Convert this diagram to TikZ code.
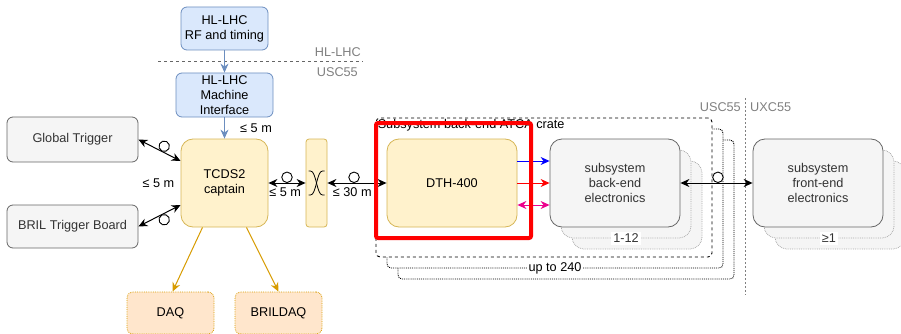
\documentclass[tikz,border=0pt]{standalone}
\usepackage{fontspec}
\setmainfont{Liberation Sans}
\usetikzlibrary{arrows.meta}
\definecolor{bluefill}{HTML}{DAE8FC}
\definecolor{bluedraw}{HTML}{6C8EBF}
\definecolor{yellowfill}{HTML}{FFF2CC}
\definecolor{yellowdraw}{HTML}{D6B656}
\definecolor{orangefill}{HTML}{FFE6CC}
\definecolor{orangedraw}{HTML}{D79B00}
\definecolor{greyfill}{HTML}{F5F5F5}
\definecolor{greydraw}{HTML}{666666}
\definecolor{greytext}{HTML}{333333}
\definecolor{zonetext}{HTML}{808080}
\begin{document}
\begin{tikzpicture}[x=1pt,y=-1pt,
  font=\fontsize{12.7pt}{15pt}\selectfont,
  >={Stealth[length=9pt,width=8pt]},
  block/.style={draw,align=center,inner sep=1pt,line width=0.8pt},
  lhcbox/.style={block,fill=bluefill,draw=bluedraw,rounded corners=6pt},
  tcdsbox/.style={block,fill=yellowfill,draw=yellowdraw,rounded corners=12pt,minimum width=87pt,minimum height=88pt},
  daqbox/.style={block,fill=orangefill,draw=orangedraw,densely dotted,rounded corners=6pt,minimum width=87pt,minimum height=42pt},
  sysbox/.style={block,fill=greyfill,draw=greydraw,text=greytext,rounded corners=6pt,minimum width=131pt},
  stackbox/.style={block,fill=greyfill,draw=greydraw!55,densely dotted,rounded corners=12pt,minimum width=130pt,minimum height=88pt},
  cratebox/.style={draw,fill=white,line width=0.9pt,rounded corners=4pt,minimum width=336pt,minimum height=139pt},
  fiber/.style={circle,draw,fill=white,minimum size=10.5pt,inner sep=0pt,line width=0.9pt},
  link/.style={<->,line width=1pt},
  dist/.style={inner sep=1pt},
  zone/.style={text=zonetext,inner sep=1pt},
  tag/.style={fill=white,inner sep=2pt,text=greytext}]
\useasboundingbox (0,0) rectangle (901,334);
\draw[dashed,greydraw,line width=0.7pt] (158,61) -- (363,61);
\node[zone,anchor=east] (hllhc) at (362,52) {HL-LHC};
\node[zone,anchor=east] (usctop) at (359,72) {USC55};
\draw[zonetext,line width=0.9pt,dash pattern=on 2pt off 2pt] (745,98) -- (745,295);
\node[zone,anchor=east] (usc) at (742,107) {USC55};
\node[zone,anchor=west] (uxc) at (749,107) {UXC55};
\foreach \s in {22,11}
  \node[cratebox,densely dotted] (crate\s) at (544+\s,187.5+\s) {};
\node[cratebox,dashed] (crate) at (544,187.5) {};
\node[tag,text=black] (upto) at (crate11.south) {up to 240};
\node[anchor=north west,inner sep=2pt] (cratelabel) at (crate.north west) {Subsystem back-end ATCA crate};
\node[lhcbox,minimum width=87pt,minimum height=43pt] (rf) at (224.5,28.5) {HL-LHC\\RF and timing};
\node[lhcbox,minimum width=97pt,minimum height=44pt] (mi) at (224.5,95) {HL-LHC\\Machine\\Interface};
\node[sysbox,minimum height=45pt] (gt) at (72.5,139.5) {Global Trigger};
\node[sysbox,minimum height=43pt] (bril) at (72.5,226.5) {BRIL Trigger Board};
\node[tcdsbox] (tcds) at (224.5,183) {TCDS2\\captain};
\node[tcdsbox,minimum width=21pt,rounded corners=3pt] (mux) at (316.5,183) {};
\node[tcdsbox,minimum width=130pt] (dth) at (452,183) {DTH-400};
\node[daqbox] (daq) at (170.5,313) {DAQ};
\node[daqbox] (bdaq) at (278.5,313) {BRILDAQ};
\foreach \s in {22,11}
  \node[stackbox] (be\s) at (615+\s,183+\s) {};
\node[tag] (beno) at (be11.south) {1-12};
\node[sysbox,rounded corners=12pt,minimum width=130pt,minimum height=88pt] (be) at (615,183) {subsystem\\back-end\\electronics};
\foreach \s in {22,11}
  \node[stackbox] (fe\s) at (818+\s,183+\s) {};
\node[tag] (feno) at (fe11.south) {≥1};
\node[sysbox,rounded corners=12pt,minimum width=130pt,minimum height=88pt] (fe) at (818,183) {subsystem\\front-end\\electronics};
\draw[line width=0.8pt] ([shift={(-8,-12)}]mux.center) -- ++(2,0) .. controls ++(6,0) and ++(-6,0) .. ++(12,24) -- ++(2,0);
\draw[line width=0.8pt] ([shift={(8,-12)}]mux.center) -- ++(-2,0) .. controls ++(-6,0) and ++(6,0) .. ++(-12,24) -- ++(-2,0);
\draw[->,bluedraw,line width=1pt] (rf) -- (mi);
\draw[->,bluedraw,line width=1pt] (mi) -- (tcds);
\node[dist,anchor=west] (d1) at (239,128) {≤ 5 m};
\draw[link] (gt.east) -- node[fiber,pos=0.55,sloped,anchor=south] (f1) {} ([yshift=22pt]tcds.west);
\draw[link] (bril.east) -- node[fiber,pos=0.55,sloped,anchor=north] (f2) {} ([yshift=-22pt]tcds.west);
\node[dist] (d2) at (158.5,183) {≤ 5 m};
\draw[link] (tcds) -- node[fiber,anchor=south] (f3) {} node[dist,anchor=north,yshift=-3pt,pos=0.45] (d3) {≤ 5 m} (mux);
\draw[link] (mux) -- node[fiber,anchor=south,pos=0.45] (f4) {} node[dist,anchor=north,yshift=-3pt,pos=0.42] (d4) {≤ 30 m} (dth);
\draw[->,blue,line width=1pt] ([yshift=22pt]dth.east) -- ([yshift=22pt]be.west);
\draw[->,red,line width=1pt] (dth) -- (be);
\draw[<->,magenta,line width=1pt] ([yshift=-22pt]dth.east) -- ([yshift=-22pt]be.west);
\draw[link] (be) -- node[fiber,anchor=south,pos=0.52] (f5) {} (fe);
\draw[->,orangedraw,line width=1pt] ([xshift=-22pt]tcds.south) -- ([xshift=2pt]daq.north);
\draw[->,orangedraw,line width=1pt] ([xshift=22pt]tcds.south) -- (bdaq.north);
\draw[red,line width=4pt,rounded corners=2pt] (376,123) rectangle (531,238);
\end{tikzpicture}
\end{document}
